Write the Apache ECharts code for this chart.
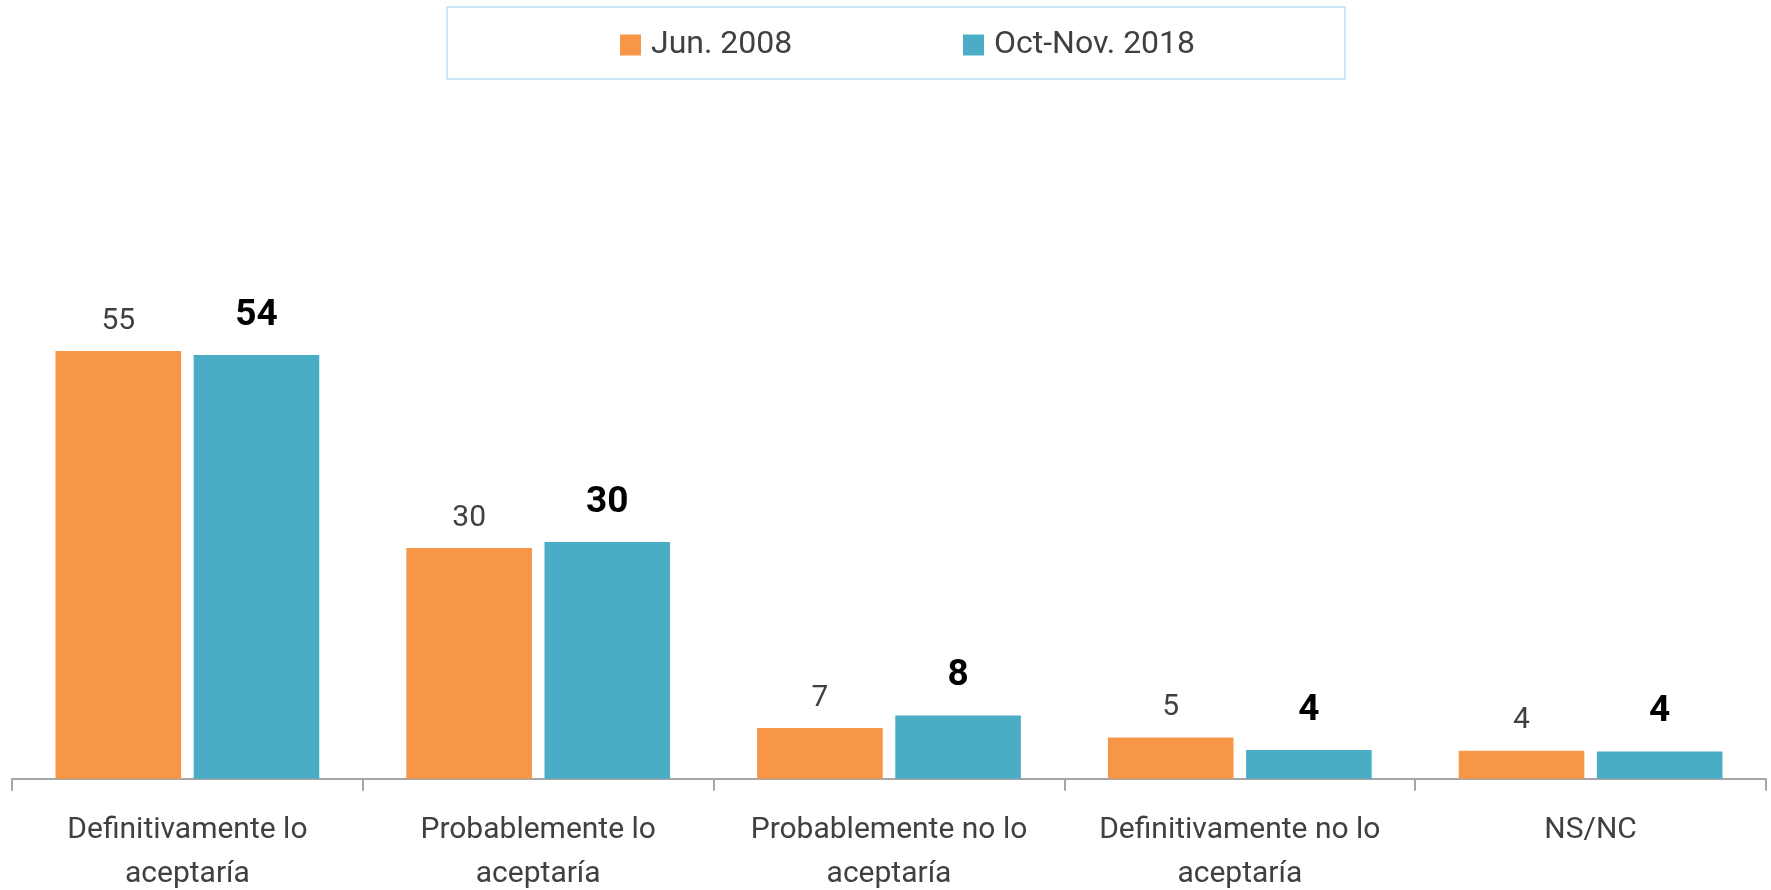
<!DOCTYPE html>
<html>
<head>
<meta charset="utf-8">
<script src="https://cdn.jsdelivr.net/npm/echarts@6/dist/echarts.min.js"></script>
<style>
  html, body { margin: 0; padding: 0; background: #fff; }
  #chart { width: 1771px; height: 890px; }
</style>
</head>
<body>
<div id="chart"></div>
<script>
// categories (line breaks as in the original labels)
var categories = [
    'Definitivamente lo\naceptaría',
    'Probablemente lo\naceptaría',
    'Probablemente no lo\naceptaría',
    'Definitivamente no lo\naceptaría',
    'NS/NC'
];
var seriesNames = ['Jun. 2008', 'Oct-Nov. 2018'];
// values (labels show them rounded)
var jun2008 = [54.9, 29.6, 6.5, 5.3, 3.6];
var octNov2018 = [54.4, 30.4, 8.1, 3.7, 3.5];

var colOrange = '#F79646';
var colBlue = '#4BACC6';
var font = 'Roboto, "Noto Sans", sans-serif';

var chart = echarts.init(document.getElementById('chart'));

var option = {
    animation: false,
    backgroundColor: '#ffffff',
    graphic: [
        {
            type: 'rect',
            shape: { x: 447, y: 7, width: 898, height: 72 },
            style: { fill: 'none', stroke: '#BFE0F4', lineWidth: 1.5 },
            silent: true
        }
    ],
    legend: [
        {
            data: [seriesNames[0]],
            left: 615, top: 24,
            icon: 'rect',
            itemWidth: 21, itemHeight: 21,
            textStyle: { fontFamily: font, fontSize: 32, color: '#404040', padding: [0, 0, 0, 5] }
        },
        {
            data: [seriesNames[1]],
            left: 958, top: 24,
            icon: 'rect',
            itemWidth: 21, itemHeight: 21,
            textStyle: { fontFamily: font, fontSize: 32, color: '#404040', padding: [0, 0, 0, 5] }
        }
    ],
    grid: { left: 12, right: 5, top: 233.4, bottom: 111.3, containLabel: false, outerBoundsMode: 'none' },
    xAxis: {
        type: 'category',
        data: categories,
        axisLine: { lineStyle: { color: '#A6A6A6', width: 2 } },
        axisTick: { show: true, length: 12, lineStyle: { color: '#A6A6A6', width: 2 } },
        axisLabel: {
            interval: 0,
            margin: 30,
            fontFamily: font,
            fontSize: 30,
            lineHeight: 44,
            color: '#404040'
        }
    },
    yAxis: {
        type: 'value',
        min: 0,
        max: 70,
        show: false,
        splitLine: { show: false }
    },
    series: [
        {
            name: seriesNames[0],
            type: 'bar',
            data: jun2008,
            barWidth: '35.8%',
            barGap: '10%',
            itemStyle: { color: colOrange },
            label: {
                show: true,
                position: 'top',
                distance: 15,
                fontFamily: font,
                fontSize: 30,
                color: '#404040',
                formatter: function (p) { return Math.round(p.value); }
            }
        },
        {
            name: seriesNames[1],
            type: 'bar',
            data: octNov2018,
            barWidth: '35.8%',
            barGap: '10%',
            itemStyle: { color: colBlue },
            label: {
                show: true,
                position: 'top',
                distance: 21,
                fontFamily: font,
                fontSize: 37,
                fontWeight: 'bold',
                color: '#000000',
                formatter: function (p) { return Math.round(p.value); }
            }
        }
    ]
};

chart.setOption(option);
</script>
</body>
</html>
